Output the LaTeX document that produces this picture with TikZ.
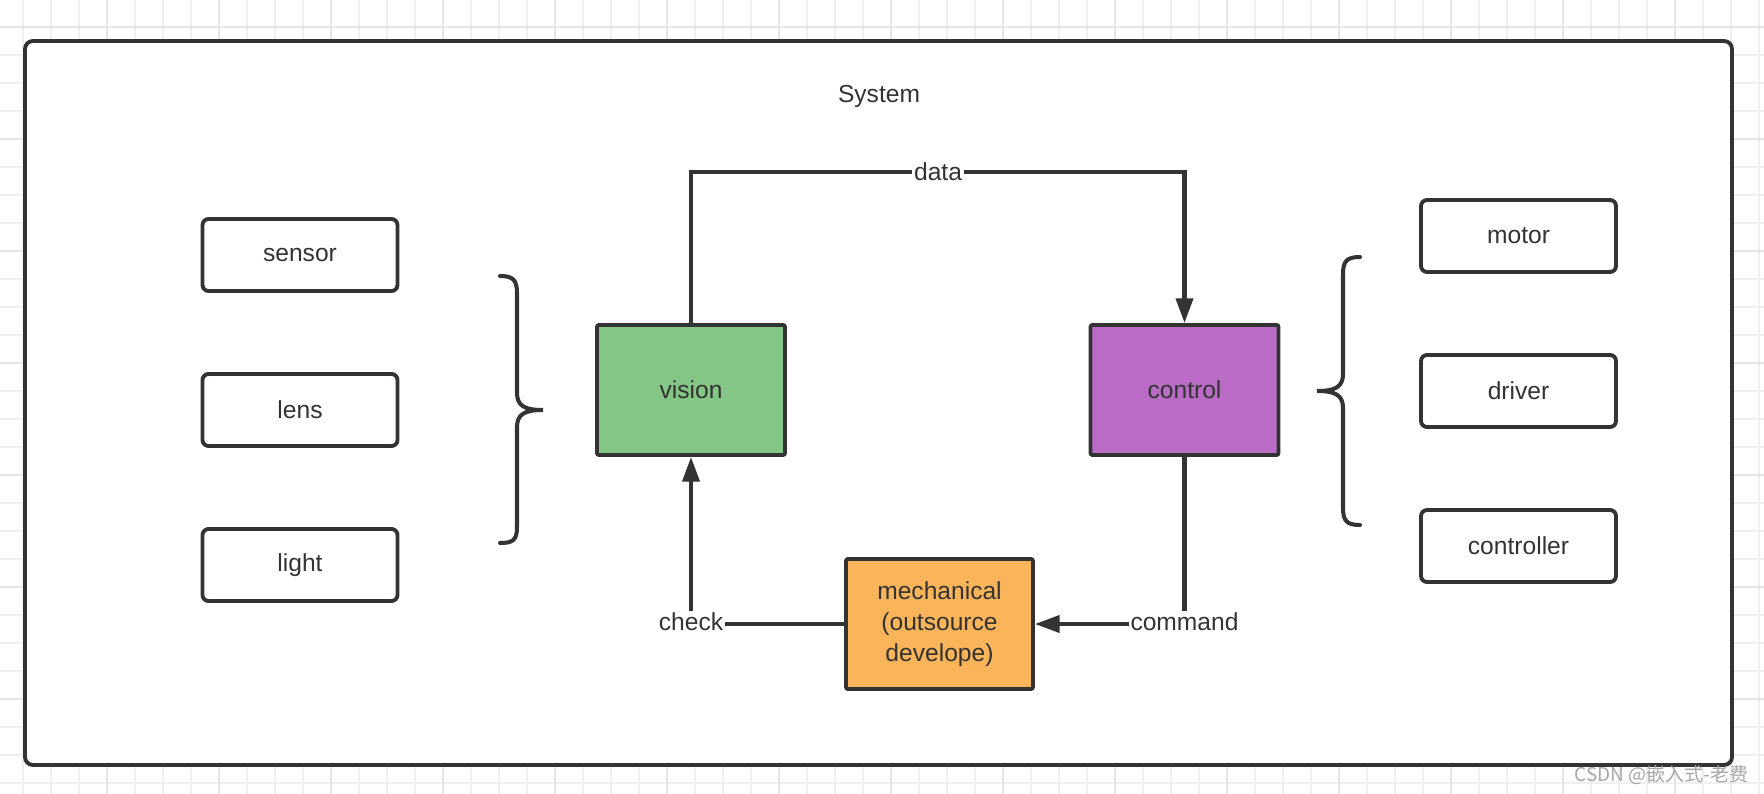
\documentclass[tikz,border=0pt]{standalone}
\usepackage{fontspec}
\setmainfont{Liberation Sans}
\newfontfamily\cjkfont{Noto Sans CJK SC}
\usetikzlibrary{positioning,arrows.meta}

\definecolor{ink}{HTML}{333333}
\definecolor{visiongreen}{HTML}{83C686}
\definecolor{controlpurple}{HTML}{B96BC6}
\definecolor{mechorange}{HTML}{FAB55A}
\definecolor{gridgray}{HTML}{EFEFEF}
\definecolor{gridbold}{HTML}{E6E6E6}

\begin{document}
\begin{tikzpicture}[node distance=3.1cm]
    \tikzset{part/.style={rectangle, rounded corners=0.12cm, draw=ink, line
        width=2.2pt, minimum width=3.9cm, minimum height=1.44cm, text=ink,
        font=\fontsize{14pt}{17.6pt}\selectfont}}
    \tikzset{module/.style={rectangle, rounded corners=0.04cm, draw=ink, line
        width=2.2pt, minimum width=3.76cm, minimum height=2.6cm, text=ink,
        align=center, font=\fontsize{14pt}{17.6pt}\selectfont}}
    \tikzset{tag/.style={fill=white, inner sep=1pt, text=ink,
        font=\fontsize{14pt}{17.6pt}\selectfont}}
    \tikzset{link/.style={draw=ink, line width=2.3pt}}
    \tikzset{arrow/.style={link, -{Triangle[length=14pt, width=9.6pt]}}}
    \tikzset{grid line/.style={gridgray, line width=1pt}}

    \useasboundingbox (0,0) rectangle (35.28,-15.88);

    % background grid
    \foreach \k in {0,...,62}
        \draw [grid line] ({0.46+0.56*\k},0) -- ++(0,-15.88);
    \foreach \k in {0,...,27}
        \draw [grid line] (0,{-0.54-0.56*\k}) -- ++(35.28,0);
    \foreach \k in {3,7,...,59}
        \draw [grid line, gridbold, line width=1.5pt] ({0.46+0.56*\k},0) -- ++(0,-15.88);
    \foreach \k in {0,4,...,24}
        \draw [grid line, gridbold, line width=1.5pt] (0,{-0.54-0.56*\k}) -- ++(35.28,0);

    \draw [ink, line width=2.2pt, fill=white, rounded corners=0.16cm]
        (0.5,-0.82) rectangle (34.64,-15.3);

    \node (system) at (17.58,-1.92) [text=ink, font=\fontsize{14pt}{17.6pt}\selectfont] {System};

    \node (sensor) [part] at (6.0,-5.1) {sensor};
    \node (lens) [part, below of=sensor] {lens};
    \node (light) [part, below of=lens] {light};

    \node (motor) [part] at (30.37,-4.72) {motor};
    \node (driver) [part, below of=motor] {driver};
    \node (controller) [part, below of=driver] {controller};

    \node (vision) [module, fill=visiongreen] at (13.82,-7.8) {vision};
    \node (control) [module, fill=controlpurple] at (23.69,-7.8) {control};
    \node (mechanical) [module, fill=mechorange, minimum width=3.74cm]
        at (18.79,-12.48) {mechanical\\(outsource\\develope)};

    \coordinate (datamid) at (18.76,-3.44);

    \draw [arrow] (vision.north) |- (datamid) node [tag] {data} -| (control.north);
    \draw [arrow] (mechanical.west) -| node [tag, yshift=1.5pt] {check} (vision.south);
    \draw [arrow] (control.south) |- node [tag, yshift=1.5pt] {command} (mechanical.east);

    % braces
    \draw [link, line cap=round] (10.0,-5.52) .. controls (10.26,-5.52) and (10.34,-5.6) .. (10.34,-5.86)
        -- (10.34,-7.86) .. controls (10.34,-8.12) and (10.5,-8.2) .. (10.86,-8.2)
        .. controls (10.5,-8.2) and (10.34,-8.28) .. (10.34,-8.54)
        -- (10.34,-10.54) .. controls (10.34,-10.8) and (10.26,-10.86) .. (10.0,-10.86);
    \draw [link, line cap=round] (27.2,-5.14) .. controls (26.94,-5.14) and (26.86,-5.22) .. (26.86,-5.48)
        -- (26.86,-7.48) .. controls (26.86,-7.74) and (26.7,-7.82) .. (26.34,-7.82)
        .. controls (26.7,-7.82) and (26.86,-7.9) .. (26.86,-8.16)
        -- (26.86,-10.16) .. controls (26.86,-10.42) and (26.94,-10.5) .. (27.2,-10.5);

    \node (mark) at (33.23,-15.5) [text=gray!70, font=\cjkfont\fontsize{10.8pt}{13pt}\selectfont]
        {CSDN @嵌入式-老费};
\end{tikzpicture}
\end{document}
